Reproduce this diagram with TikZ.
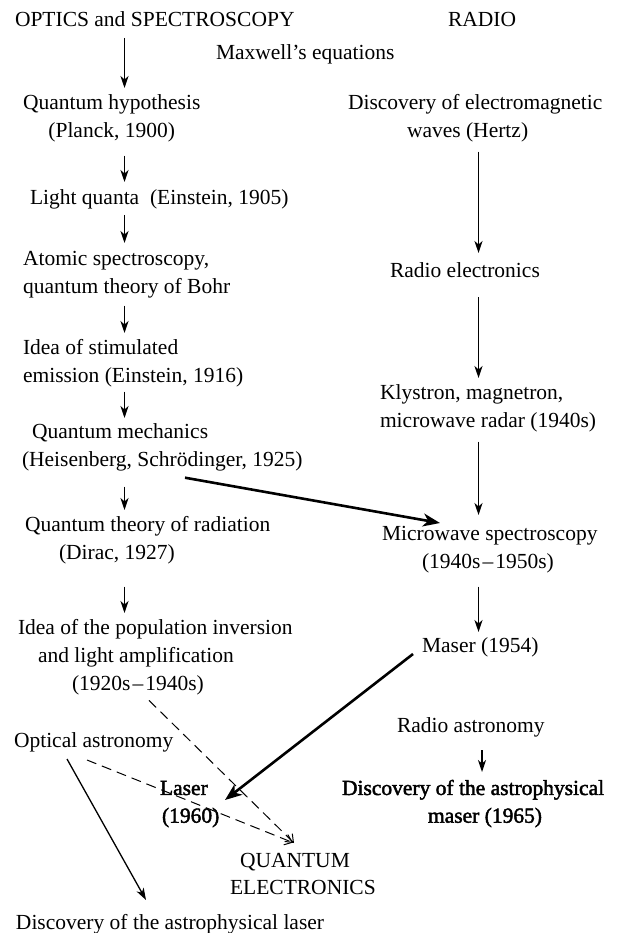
\documentclass[tikz,border=0pt]{standalone}
\usepackage{fontspec}
\setmainfont{Liberation Serif}
\newfontfamily\fbold[FakeBold=2]{Liberation Serif}
\usetikzlibrary{arrows.meta,calc}
\begin{document}
\begin{tikzpicture}[x=1pt,y=-1pt,
  every node/.style={inner sep=0pt, outer sep=0pt, anchor=north west, align=left,
    font=\fontsize{21.5}{27.7}\selectfont},
  arr/.style={line width=1.3pt, -{Stealth[length=12pt,width=8pt,inset=3.5pt]}},
  thickarr/.style={line width=2.6pt, -{Stealth[length=17pt,width=13pt,inset=5pt]}},
  dasharr/.style={line width=1pt, dash pattern=on 10pt off 6pt, -{Straight Barb[length=7pt,width=11pt]}},
  boldtxt/.style={font=\fontsize{21.5}{27.7}\fbold}
]
\useasboundingbox (0,0) rectangle (618,933);
\coordinate (lc) at (124.5,0);
\coordinate (rc) at (478.5,0);
\coordinate (rc2) at (482,0);

% left column
\node (optics) at (15,7.6) {\strut OPTICS and SPECTROSCOPY};
\node (radio) at (448,7.6) {\strut RADIO};
\node (maxwell) at (216,40.6) {\strut Maxwell’s equations};
\node[align=center] (qh) at (23,90.6) {\strut Quantum hypothesis\\\strut (Planck, 1900)};
\node (lq) at (30,185.6) {\strut Light quanta~ (Einstein, 1905)};
\node (atomic) at (23,246.6) {\strut Atomic spectroscopy,\\\strut quantum theory of Bohr};
\node (stim) at (23,335.6) {\strut Idea of stimulated\\\strut emission (Einstein, 1916)};
\node (qm) at (22,419.6) {\strut\hspace*{10pt}Quantum mechanics\\\strut (Heisenberg, Schrödinger, 1925)};
\node (qtr) at (25,512.6) {\strut Quantum theory of radiation\\\strut\hspace*{34pt}(Dirac, 1927)};
\node (popinv) at (18,615.6) {\strut Idea of the population inversion\\\strut\hspace*{20pt}and light amplification\\\strut\hspace*{54pt}(1920s\kern2pt–\kern2pt1940s)};
\node (optast) at (14,728.6) {\strut Optical astronomy};
\node[boldtxt] (laser) at (160,775.6) {\strut Laser\\\strut\hspace*{2pt}(1960)};
\node (qe) at (230,847.6) {\strut\hspace*{10pt}QUANTUM\\\strut ELECTRONICS};
\node (dlaser) at (16,909.6) {\strut Discovery of the astrophysical laser};

% right column
\node (dem) at (348,90.6) {\strut Discovery of electromagnetic\\\strut\hspace*{59pt}waves (Hertz)};
\node (rel) at (390,258.6) {\strut Radio electronics};
\node (kly) at (380,380.6) {\strut Klystron, magnetron,\\\strut microwave radar (1940s)};
\node (ms) at (382,521.6) {\strut Microwave spectroscopy\\\strut\hspace*{40pt}(1940s\kern2pt–\kern2pt1950s)};
\node (maser) at (422,633.6) {\strut Maser (1954)};
\node (rast) at (397,713.6) {\strut Radio astronomy};
\node[boldtxt] (dmaser) at (342,775.6) {\strut Discovery of the astrophysical\\\strut\hspace*{86pt}maser (1965)};

% left arrows
\draw[arr] ($(optics.south -| lc)+(0,2.7)$) -- ($(qh.north -| lc)+(0,-2.6)$);
\draw[arr] ($(qh.south -| lc)+(0,9.7)$) -- ($(lq.north -| lc)+(0,-3.6)$);
\draw[arr] ($(lq.south -| lc)+(0,1.7)$) -- ($(atomic.north -| lc)+(0,-3.6)$);
\draw[arr] ($(atomic.south -| lc)+(0,3.7)$) -- ($(stim.north -| lc)+(0,-2.6)$);
\draw[arr] ($(stim.south -| lc)+(0,0.7)$) -- ($(qm.north -| lc)+(0,-1.6)$);
\draw[arr] ($(qm.south -| lc)+(0,11.7)$) -- ($(qtr.north -| lc)+(0,-2.6)$);
\draw[arr] ($(qtr.south -| lc)+(0,18.7)$) -- ($(popinv.north -| lc)+(0,-2.6)$);

% right arrows
\draw[arr] ($(dem.south -| rc)+(0,5.7)$) -- ($(rel.north -| rc)+(0,-5.6)$);
\draw[arr] ($(rel.south -| rc)+(0,10.7)$) -- ($(kly.north -| rc)+(0,-2.6)$);
\draw[arr] ($(kly.south -| rc)+(0,5.7)$) -- ($(ms.north -| rc)+(0,-6.6)$);
\draw[arr] ($(ms.south -| rc)+(0,9.7)$) -- ($(maser.north -| rc)+(0,-1.6)$);
\draw[arr] ($(rast.south -| rc2)+(0,8.7)$) -- ($(dmaser.north -| rc2)+(0,-3.6)$);

% thick arrows
\draw[thickarr] ($(qm.south west)+(163,2.7)$) -- ($(ms.north west)+(58,1.4)$);
\draw[thickarr] ($(maser.north west)+(-9,20.4)$) -- ($(laser.north west)+(65,24.4)$);

% dashed arrows
\draw[dasharr] ($(popinv.south west)+(131,1.7)$) -- ($(qe.north west)+(64,-4.6)$);
\draw[dasharr] ($(optast.south west)+(73,3.7)$) -- ($(qe.north west)+(63,-5)$);

% optical astronomy -> astrophysical laser
\draw[arr] ($(optast.south west)+(53,2.7)$) -- ($(dlaser.north west)+(130,-9.6)$);
\end{tikzpicture}
\end{document}
